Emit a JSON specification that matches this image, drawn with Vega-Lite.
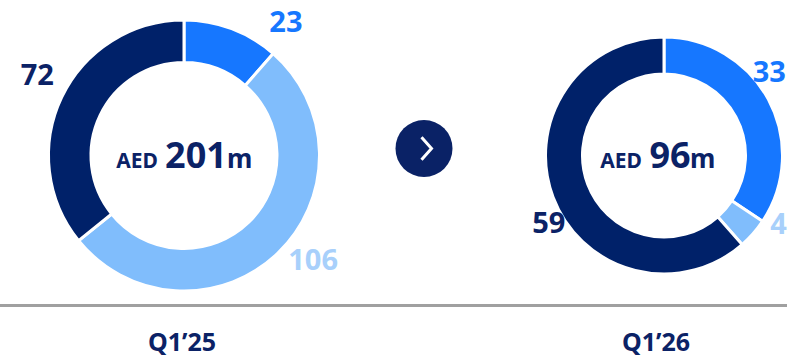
{
  "$schema": "https://vega.github.io/schema/vega-lite/v6.json",
  "width": 787,
  "height": 359,
  "autosize": {"type": "none"},
  "padding": 0,
  "background": "#ffffff",
  "config": {"view": {"stroke": null}, "text": {"font": "Noto Sans"}},
  "datasets": {
    "rev": [
      {"period": "Q1’25", "segment": "Segment A", "order": 1, "value": 23},
      {"period": "Q1’25", "segment": "Segment B", "order": 2, "value": 106},
      {"period": "Q1’25", "segment": "Segment C", "order": 3, "value": 72},
      {"period": "Q1’26", "segment": "Segment A", "order": 1, "value": 33},
      {"period": "Q1’26", "segment": "Segment B", "order": 2, "value": 4},
      {"period": "Q1’26", "segment": "Segment C", "order": 3, "value": 59}
    ]
  },
  "data": {"name": "rev"},
  "layer": [
    {
      "transform": [{"aggregate": [{"op": "count", "as": "n"}]}],
      "mark": {"type": "rule", "color": "#a0a0a0", "strokeWidth": 3},
      "encoding": {
        "y": {"datum": "baseline", "type": "nominal", "scale": {"type": "point", "padding": 0, "domain": ["donut", "baseline"], "range": [155.5, 305.5]}, "axis": null}
      }
    },
    {
      "transform": [{"aggregate": [{"op": "count", "as": "n"}]}],
      "layer": [
        {
          "mark": {"type": "point", "shape": "circle", "filled": true, "color": "#0a2266", "opacity": 1, "size": 3249, "yOffset": -7},
          "encoding": {
            "x": {"datum": "change", "type": "nominal", "scale": {"type": "point", "padding": 0, "domain": ["Q1’25", "change", "Q1’26"], "range": [184, 664]}, "axis": null},
            "y": {"datum": "donut", "type": "nominal", "axis": null}
          }
        },
        {
          "mark": {"type": "point", "shape": "M-0.2,-0.9L0.6,0L-0.2,0.9", "filled": false, "color": "#ffffff", "strokeWidth": 3, "opacity": 1, "size": 625, "yOffset": -7},
          "encoding": {
            "x": {"datum": "change", "type": "nominal", "axis": null},
            "y": {"datum": "donut", "type": "nominal", "axis": null}
          }
        }
      ]
    },
    {
      "transform": [{"filter": {"field": "period", "equal": "Q1’25"}}],
      "layer": [
        {
          "mark": {"type": "arc", "outerRadius": 135.5, "innerRadius": 93, "stroke": "#ffffff", "strokeWidth": 3},
          "encoding": {
            "x": {"field": "period", "type": "nominal", "axis": null},
            "y": {"datum": "donut", "type": "nominal", "axis": null},
            "theta": {"field": "value", "type": "quantitative", "stack": true},
            "order": {"field": "order", "type": "quantitative"},
            "color": {"field": "segment", "type": "nominal", "scale": {"domain": ["Segment A", "Segment B", "Segment C"], "range": ["#1677ff", "#80bdfc", "#002169"]}, "legend": null}
          }
        },
        {
          "mark": {"type": "text", "radius": 167, "fontSize": 29, "fontWeight": "bold", "baseline": "middle", "align": "center"},
          "encoding": {
            "x": {"field": "period", "type": "nominal", "axis": null},
            "y": {"datum": "donut", "type": "nominal", "axis": null},
            "theta": {"field": "value", "type": "quantitative", "stack": true, "bandPosition": 0.34, "scale": {"range": [0.412, 6.695]}},
            "order": {"field": "order", "type": "quantitative"},
            "text": {"field": "value", "type": "quantitative"},
            "fill": {"field": "segment", "type": "nominal", "scale": {"domain": ["Segment A", "Segment B", "Segment C"], "range": ["#1677ff", "#a8d0fb", "#0b2266"]}, "legend": null}
          }
        },
        {
          "transform": [{"aggregate": [{"op": "sum", "field": "value", "as": "total"}], "groupby": ["period"]}],
          "layer": [
            {
              "mark": {"type": "text", "text": "AED", "align": "right", "baseline": "alphabetic", "dx": -26, "dy": 12, "fontSize": 21, "fontWeight": "bold", "color": "#0b2266"},
              "encoding": {"x": {"field": "period", "type": "nominal", "axis": null}, "y": {"datum": "donut", "type": "nominal", "axis": null}}
            },
            {
              "mark": {"type": "text", "align": "center", "baseline": "alphabetic", "dx": 12, "dy": 12, "fontSize": 36, "fontWeight": "bold", "color": "#0b2266"},
              "encoding": {"x": {"field": "period", "type": "nominal", "axis": null}, "y": {"datum": "donut", "type": "nominal", "axis": null}, "text": {"field": "total", "type": "quantitative"}}
            },
            {
              "mark": {"type": "text", "text": "m", "align": "left", "baseline": "alphabetic", "dx": 43, "dy": 12, "fontSize": 26, "fontWeight": "bold", "color": "#0b2266"},
              "encoding": {"x": {"field": "period", "type": "nominal", "axis": null}, "y": {"datum": "donut", "type": "nominal", "axis": null}}
            },
            {
              "mark": {"type": "text", "align": "center", "baseline": "middle", "dx": -2, "dy": 37, "fontSize": 25, "fontWeight": "bold", "color": "#0b2266"},
              "encoding": {"x": {"field": "period", "type": "nominal", "axis": null}, "y": {"datum": "baseline", "type": "nominal", "axis": null}, "text": {"field": "period", "type": "nominal"}}
            }
          ]
        }
      ],
      "resolve": {"scale": {"theta": "independent"}}
    },
    {
      "transform": [{"filter": {"field": "period", "equal": "Q1’26"}}],
      "layer": [
        {
          "mark": {"type": "arc", "outerRadius": 118.5, "innerRadius": 81.5, "stroke": "#ffffff", "strokeWidth": 3},
          "encoding": {
            "x": {"field": "period", "type": "nominal", "axis": null},
            "y": {"datum": "donut", "type": "nominal", "axis": null},
            "theta": {"field": "value", "type": "quantitative", "stack": true},
            "order": {"field": "order", "type": "quantitative"},
            "color": {"field": "segment", "type": "nominal", "legend": null}
          }
        },
        {
          "mark": {"type": "text", "radius": 134, "fontSize": 29, "fontWeight": "bold", "baseline": "middle", "align": "center"},
          "encoding": {
            "x": {"field": "period", "type": "nominal", "axis": null},
            "y": {"datum": "donut", "type": "nominal", "axis": null},
            "theta": {"field": "value", "type": "quantitative", "stack": true, "scale": {"range": [-0.175, 6.108]}},
            "order": {"field": "order", "type": "quantitative"},
            "text": {"field": "value", "type": "quantitative"},
            "fill": {"field": "segment", "type": "nominal", "legend": null}
          }
        },
        {
          "transform": [{"aggregate": [{"op": "sum", "field": "value", "as": "total"}], "groupby": ["period"]}],
          "layer": [
            {
              "mark": {"type": "text", "text": "AED", "align": "right", "baseline": "alphabetic", "dx": -22, "dy": 12, "fontSize": 21, "fontWeight": "bold", "color": "#0b2266"},
              "encoding": {"x": {"field": "period", "type": "nominal", "axis": null}, "y": {"datum": "donut", "type": "nominal", "axis": null}}
            },
            {
              "mark": {"type": "text", "align": "center", "baseline": "alphabetic", "dx": 6, "dy": 12, "fontSize": 36, "fontWeight": "bold", "color": "#0b2266"},
              "encoding": {"x": {"field": "period", "type": "nominal", "axis": null}, "y": {"datum": "donut", "type": "nominal", "axis": null}, "text": {"field": "total", "type": "quantitative"}}
            },
            {
              "mark": {"type": "text", "text": "m", "align": "left", "baseline": "alphabetic", "dx": 26, "dy": 12, "fontSize": 26, "fontWeight": "bold", "color": "#0b2266"},
              "encoding": {"x": {"field": "period", "type": "nominal", "axis": null}, "y": {"datum": "donut", "type": "nominal", "axis": null}}
            },
            {
              "mark": {"type": "text", "align": "center", "baseline": "middle", "dx": -8, "dy": 37, "fontSize": 25, "fontWeight": "bold", "color": "#0b2266"},
              "encoding": {"x": {"field": "period", "type": "nominal", "axis": null}, "y": {"datum": "baseline", "type": "nominal", "axis": null}, "text": {"field": "period", "type": "nominal"}}
            }
          ]
        }
      ],
      "resolve": {"scale": {"theta": "independent"}}
    }
  ],
  "resolve": {"scale": {"theta": "independent"}}
}
